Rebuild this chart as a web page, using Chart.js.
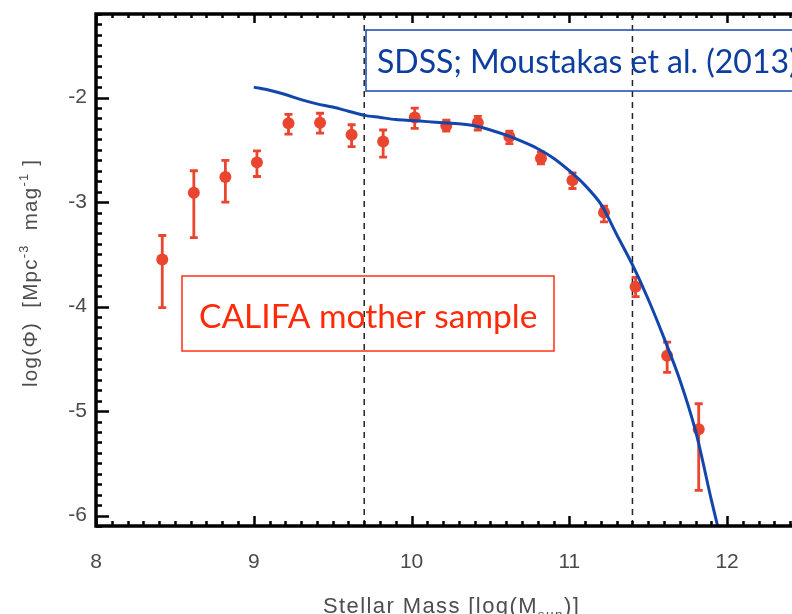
<!DOCTYPE html>
<html>
<head>
<meta charset="utf-8">
<script src="https://cdn.jsdelivr.net/npm/chart.js@4.4.1/dist/chart.umd.min.js"></script>
<style>
  html, body { margin: 0; padding: 0; overflow: hidden; background: #fff; }
  #wrap { position: relative; width: 812px; height: 614px; }
</style>
</head>
<body>
<div id="wrap"><canvas id="massChart"></canvas></div>
<script>
// CALIFA mother sample: binned mass function with error bars
const massBins = [8.42, 8.62, 8.82, 9.02, 9.22, 9.42, 9.62, 9.82, 10.02, 10.22, 10.42, 10.62, 10.82, 11.02, 11.22, 11.42, 11.62, 11.82];
const logPhi   = [-3.55, -2.91, -2.76, -2.62, -2.245, -2.24, -2.355, -2.42, -2.19, -2.27, -2.24, -2.375, -2.58, -2.79, -3.10, -3.81, -4.47, -5.175];
const errTop   = [-3.32, -2.70, -2.60, -2.51, -2.16, -2.15, -2.26, -2.31, -2.10, -2.215, -2.18, -2.32, -2.52, -2.72, -3.04, -3.72, -4.34, -4.93];
const errBot   = [-4.01, -3.34, -3.00, -2.755, -2.35, -2.34, -2.47, -2.57, -2.295, -2.32, -2.31, -2.44, -2.635, -2.87, -3.19, -3.905, -4.63, -5.76];

// SDSS (Moustakas et al. 2013) curve
const sdssMass   = [9.00, 9.10, 9.20, 9.30, 9.40, 9.50, 9.60, 9.70, 9.80, 9.90, 10.00, 10.10, 10.20, 10.30, 10.40, 10.50, 10.60, 10.70, 10.80, 10.90, 11.00, 11.10, 11.20, 11.30, 11.40, 11.50, 11.60, 11.70, 11.80, 11.90, 11.94];
const sdssLogPhi = [-1.90, -1.93, -1.97, -2.02, -2.06, -2.09, -2.13, -2.17, -2.19, -2.21, -2.22, -2.23, -2.24, -2.25, -2.27, -2.31, -2.36, -2.42, -2.49, -2.58, -2.70, -2.84, -3.02, -3.31, -3.60, -3.93, -4.30, -4.70, -5.19, -5.85, -6.10];

// completeness limits (dashed lines)
const massLimits = [9.7, 11.4];

const xRange = [8, 12.5];
const yRange = [-6.1, -1.2];

const RED = '#e9452f';
const BLUE = '#1346ad';

// error bars, drawn under the markers
const errorBarPlugin = {
    id: 'errorBars',
    beforeDatasetsDraw(chart) {
        const ctx = chart.ctx;
        const xs = chart.scales.x, ys = chart.scales.y;
        ctx.save();
        ctx.strokeStyle = RED;
        ctx.lineWidth = 2.8;
        for (let i = 0; i < massBins.length; i++) {
            const px = xs.getPixelForValue(massBins[i]);
            const y1 = ys.getPixelForValue(errTop[i]);
            const y2 = ys.getPixelForValue(errBot[i]);
            ctx.beginPath();
            ctx.moveTo(px, y1); ctx.lineTo(px, y2);
            ctx.moveTo(px - 4, y1); ctx.lineTo(px + 4, y1);
            ctx.moveTo(px - 4, y2); ctx.lineTo(px + 4, y2);
            ctx.stroke();
        }
        ctx.restore();
    }
};

// dashed vertical lines
const limitLinesPlugin = {
    id: 'limitLines',
    beforeDatasetsDraw(chart) {
        const ctx = chart.ctx;
        const a = chart.chartArea;
        ctx.save();
        ctx.strokeStyle = '#222';
        ctx.lineWidth = 1.5;
        ctx.setLineDash([6, 5]);
        massLimits.forEach(m => {
            const px = chart.scales.x.getPixelForValue(m);
            ctx.beginPath();
            ctx.moveTo(px, a.top);
            ctx.lineTo(px, a.bottom);
            ctx.stroke();
        });
        ctx.restore();
    }
};

// text with super/subscripts
function drawRich(ctx, parts, size, family, spacing) {
    let x = 0;
    parts.forEach(p => {
        const s = p.sup || p.sub ? size * 0.62 : size;
        ctx.font = s + 'px ' + family;
        ctx.letterSpacing = spacing + 'px';
        const dy = p.sup ? -size * 0.42 : (p.sub ? size * 0.28 : 0);
        ctx.fillText(p.t, x, dy);
        x += ctx.measureText(p.t).width;
    });
}

const axisTitlePlugin = {
    id: 'axisTitles',
    afterDraw(chart) {
        const ctx = chart.ctx;
        ctx.save();
        ctx.fillStyle = '#4d4d4d';
        ctx.textBaseline = 'alphabetic';
        ctx.textAlign = 'left';
        // x title
        ctx.save();
        ctx.translate(323, 613);
        drawRich(ctx, [{t: 'Stellar Mass [log(M'}, {t: 'sun', sub: true}, {t: ')]'}], 22, '"Liberation Sans", Arial, sans-serif', 1.4);
        ctx.restore();
        // y title
        ctx.save();
        ctx.translate(37, 387);
        ctx.rotate(-Math.PI / 2);
        drawRich(ctx, [{t: 'log(Φ)  [Mpc'}, {t: '-3', sup: true}, {t: '  mag'}, {t: '-1', sup: true}, {t: ' ]'}], 20.5, '"Liberation Sans", Arial, sans-serif', 1.3);
        ctx.restore();
        ctx.restore();
    }
};

// frame with inward ticks + labels boxes
const framePlugin = {
    id: 'frame',
    afterDraw(chart) {
        const ctx = chart.ctx;
        const a = chart.chartArea;
        const xs = chart.scales.x, ys = chart.scales.y;

        // boxed labels
        ctx.save();
        ctx.textBaseline = 'alphabetic';
        ctx.textAlign = 'left';
        ctx.lineWidth = 1.5;
        ctx.strokeStyle = '#ff3010';
        ctx.strokeRect(182, 276, 372, 75);
        ctx.fillStyle = '#ff2a08';
        ctx.font = '33.5px Lato, sans-serif';
        ctx.fillText('CALIFA mother sample', 199, 328);
        ctx.strokeStyle = '#1446ad';
        ctx.strokeRect(366, 30, 460, 61);
        ctx.fillStyle = '#0c3e9f';
        ctx.font = '32px Lato, sans-serif';
        ctx.fillText('SDSS; Moustakas et al. (2013)', 377, 73);
        ctx.restore();

        ctx.save();
        ctx.strokeStyle = '#000';
        ctx.lineWidth = 2.5;
        ctx.beginPath();
        for (let i = 0; i <= 45; i++) {
            const v = xRange[0] + i * 0.1;
            const px = Math.round(xs.getPixelForValue(v)) + 0.5;
            const major = i % 10 === 0;
            ctx.moveTo(px, a.bottom); ctx.lineTo(px, a.bottom - (major ? 10 : 5));
            ctx.moveTo(px, a.top); ctx.lineTo(px, a.top + (major ? 9 : 4));
        }
        for (let i = 0; i <= 49; i++) {
            const v = yRange[0] + i * 0.1;
            const py = Math.round(ys.getPixelForValue(v)) + 0.5;
            const major = Math.abs(v - Math.round(v)) < 1e-6;
            ctx.moveTo(a.left, py); ctx.lineTo(a.left + (major ? 13 : 6), py);
            ctx.moveTo(a.right, py); ctx.lineTo(a.right - (major ? 13 : 6), py);
        }
        ctx.stroke();
        ctx.lineWidth = 3.5;
        ctx.strokeRect(a.left, a.top, a.right - a.left, a.bottom - a.top);
        ctx.restore();
    }
};

const curvePoints = sdssMass.map((m, i) => ({x: m, y: sdssLogPhi[i]}));
const califaPoints = massBins.map((m, i) => ({x: m, y: logPhi[i]}));

new Chart(document.getElementById('massChart'), {
    type: 'scatter',
    data: {
        datasets: [
            {
                type: 'line',
                label: 'SDSS',
                data: curvePoints,
                borderColor: BLUE,
                borderWidth: 3,
                pointRadius: 0,
                tension: 0.3,
                fill: false
            },
            {
                label: 'CALIFA',
                data: califaPoints,
                backgroundColor: RED,
                borderWidth: 0,
                pointRadius: 6
            }
        ]
    },
    options: {
        responsive: true,
        maintainAspectRatio: false,
        animation: false,
        layout: { padding: { left: 0, top: 14, right: 6, bottom: 0 } },
        plugins: {
            legend: { display: false },
            tooltip: { enabled: false }
        },
        scales: {
            x: {
                type: 'linear',
                min: xRange[0],
                max: xRange[1],
                afterFit(scale) {
                    scale.height = 88;
                    scale.paddingLeft = 0;
                    scale.paddingRight = 0;
                },
                grid: { display: false, drawTicks: false },
                border: { display: false },
                ticks: {
                    stepSize: 1,
                    includeBounds: false,
                    padding: 24,
                    color: '#4a4a4a',
                    font: { family: '"Liberation Sans", Arial, sans-serif', size: 21 }
                }
            },
            y: {
                type: 'linear',
                min: yRange[0],
                max: yRange[1],
                afterFit(scale) {
                    scale.width = 96;
                    scale.paddingTop = 0;
                    scale.paddingBottom = 0;
                },
                grid: { display: false, drawTicks: false },
                border: { display: false },
                ticks: {
                    stepSize: 1,
                    includeBounds: false,
                    padding: 9,
                    color: '#4a4a4a',
                    font: { family: '"Liberation Sans", Arial, sans-serif', size: 21 }
                }
            }
        }
    },
    plugins: [limitLinesPlugin, errorBarPlugin, framePlugin, axisTitlePlugin]
});
</script>
</body>
</html>
